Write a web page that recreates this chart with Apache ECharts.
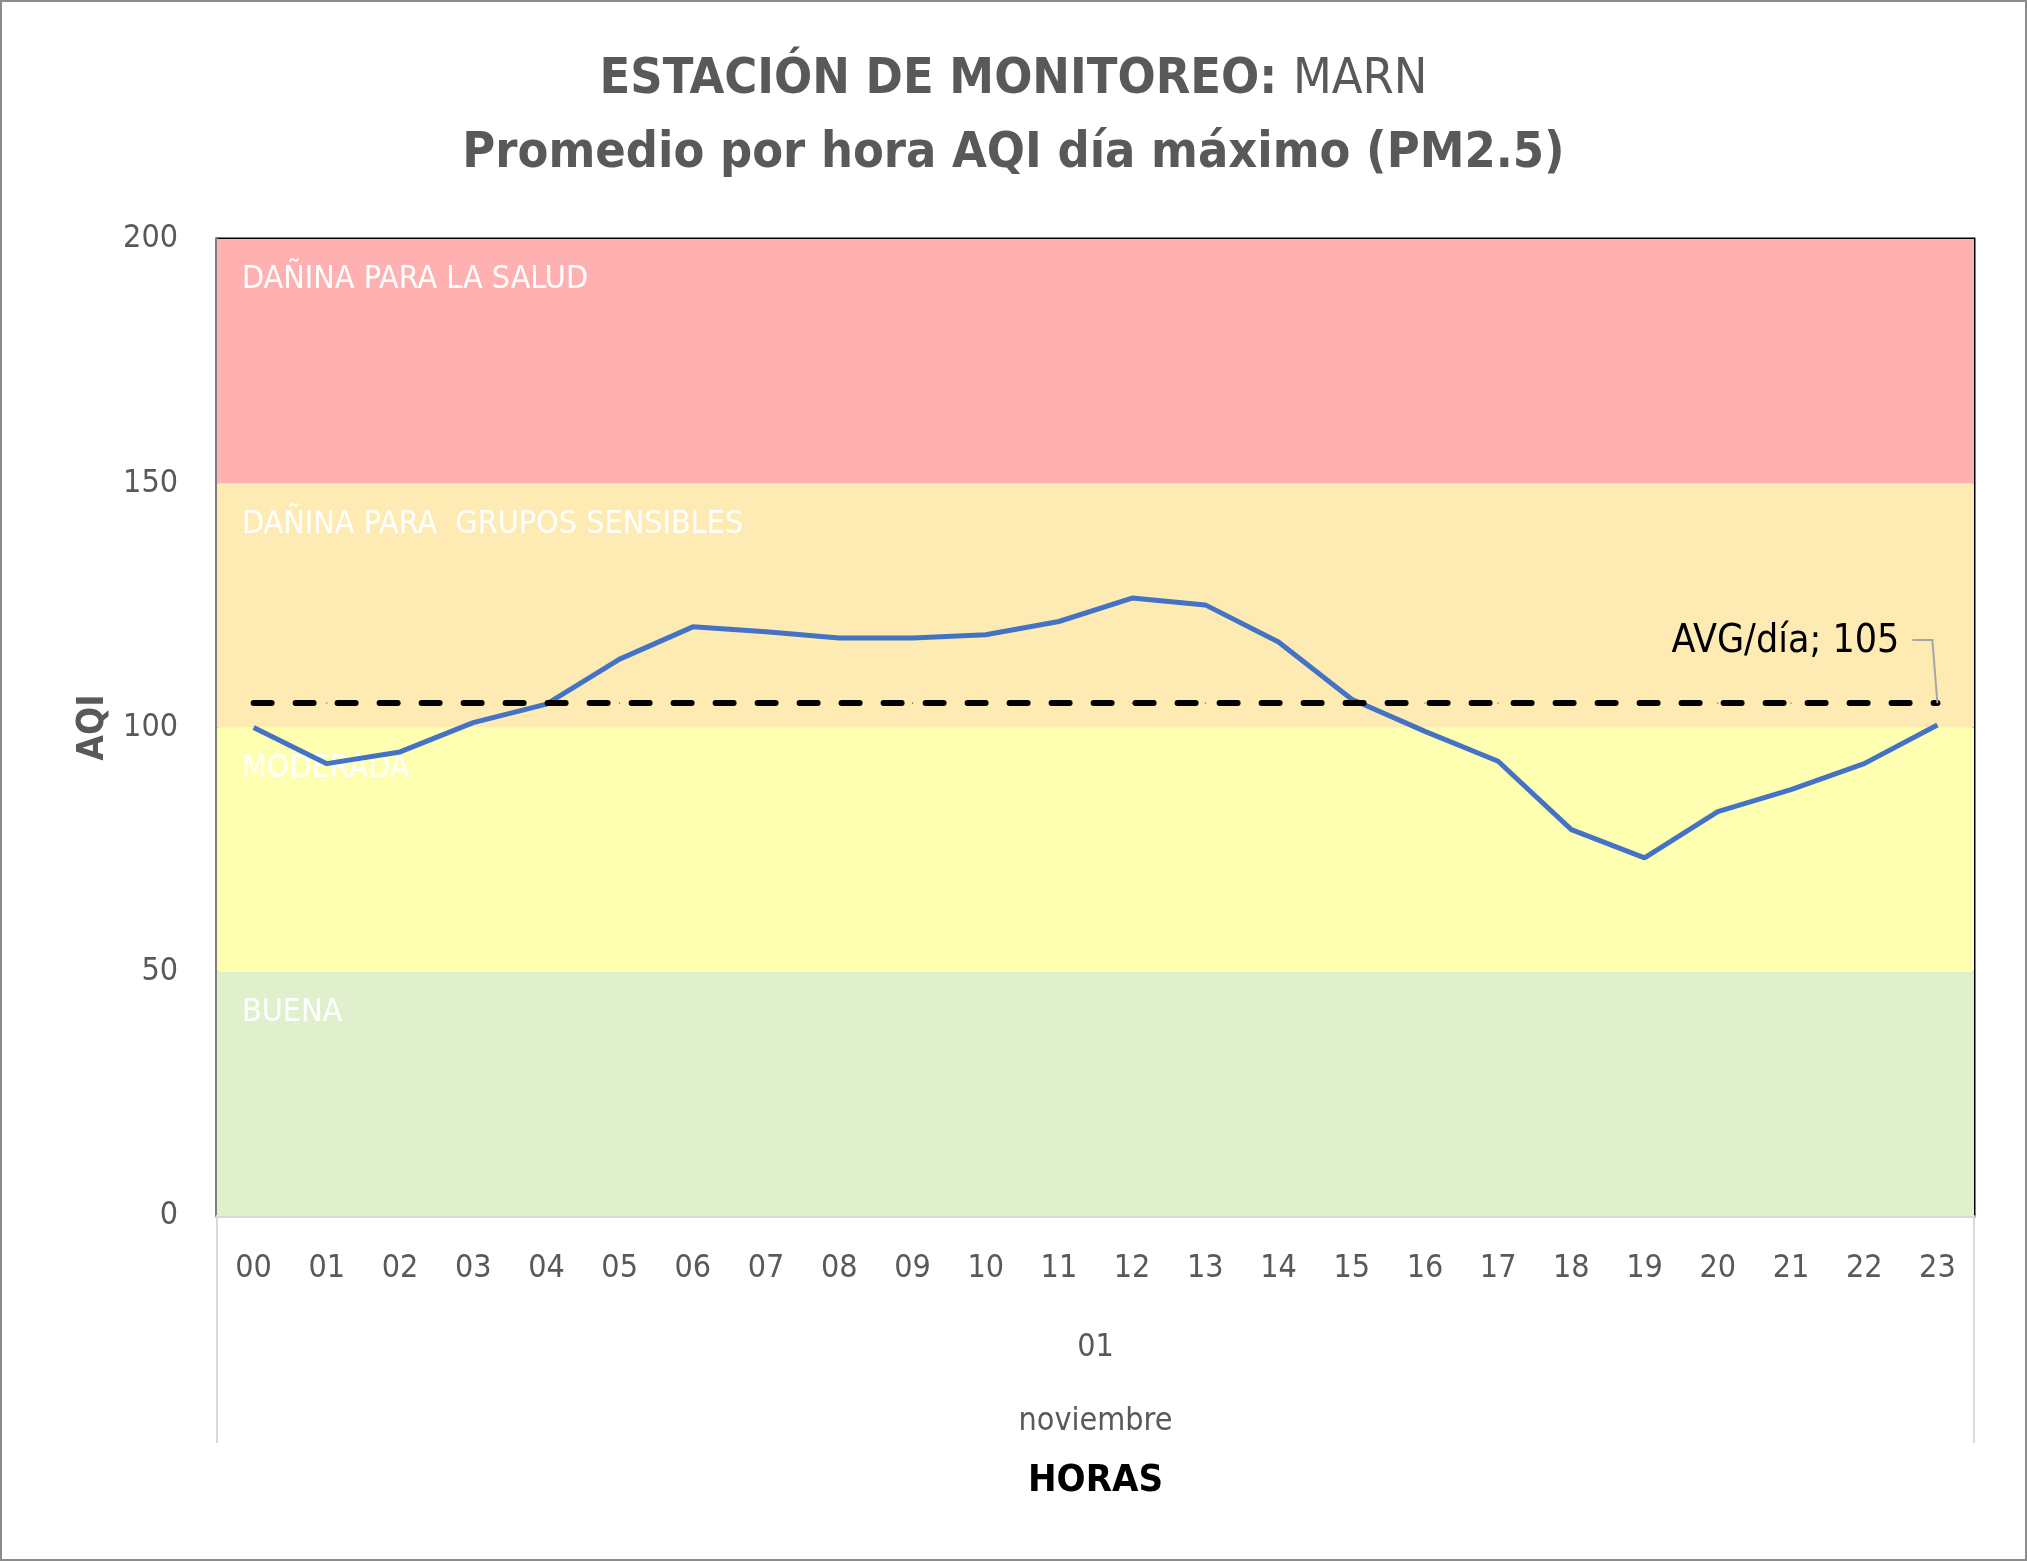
<!DOCTYPE html>
<html>
<head>
<meta charset="utf-8">
<script src="https://cdn.jsdelivr.net/npm/echarts@6/dist/echarts.min.js"></script>
<style>
  html, body { margin: 0; padding: 0; background: #fff; }
  #chart { width: 2027px; height: 1561px; box-sizing: border-box; border: 2px solid #8c8c8c; }
</style>
</head>
<body>
<div id="chart"></div>
<script>
const hours = ['00','01','02','03','04','05','06','07','08','09','10','11','12','13','14','15','16','17','18','19','20','21','22','23'];
const aqiValues = [100, 92.6, 95, 101, 104.8, 114, 120.6, 119.6, 118.3, 118.3, 119, 121.7, 126.5, 125.1, 117.5, 105.8, 99.2, 93.1, 79.1, 73.3, 82.8, 87.3, 92.6, 100.5];
const avgValue = 105;
const avgValues = [105,105,105,105,105,105,105,105,105,105,105,105,105,105,105,105,105,105,105,105,105,105,105,105];
const dayLabels = ['01'];
const monthLabels = ['noviembre'];
const bandNames = ['BUENA', 'MODERADA', 'DAÑINA PARA  GRUPOS SENSIBLES', 'DAÑINA PARA LA SALUD'];
const bandLimits = [0, 50, 100, 150, 200];
const bandColors = ['#E0F0CD', '#FFFFB1', '#FEEBB3', '#FFB1B1'];
const yMin = 0, yMax = 200, yInterval = 50;

const FONT = "'Liberation Sans Narrow', 'Arial Narrow', 'DejaVu Sans Condensed', sans-serif";

const chart = echarts.init(document.getElementById('chart'));

const bands = bandNames.map((name, i) => [
  { yAxis: bandLimits[i], name: name, itemStyle: { color: bandColors[i] } },
  { yAxis: bandLimits[i + 1] }
]);

chart.setOption({
  animation: false,
  backgroundColor: '#fff',
  textStyle: { fontFamily: FONT },
  title: {
    left: 'center',
    top: 36,
    text: '{b|ESTACIÓN DE MONITOREO: }{n|MARN}\n{b|Promedio por hora AQI día máximo (PM2.5)}',
    textStyle: {
      rich: {
        b: { fontFamily: FONT, fontSize: 50, fontWeight: 'bold', color: '#595959', lineHeight: 74 },
        n: { fontFamily: FONT, fontSize: 50, fontWeight: 'normal', color: '#595959', lineHeight: 74 }
      }
    }
  },
  grid: {
    left: 215, right: 51, top: 237, bottom: 343,
    show: true, borderColor: '#000', borderWidth: 3, backgroundColor: 'transparent'
  },
  xAxis: [
    {
      type: 'category', data: hours, boundaryGap: true, position: 'bottom',
      axisLine: { show: true, lineStyle: { color: '#D9D9D9', width: 3 } },
      axisTick: { show: false },
      axisLabel: { interval: 0, fontSize: 32, color: '#595959', margin: 37, fontFamily: FONT },
      splitLine: { show: false },
      name: 'HORAS', nameLocation: 'middle', nameGap: 246,
      nameTextStyle: { fontSize: 38, fontWeight: 'bold', color: '#000', fontFamily: FONT }
    },
    {
      type: 'category', data: dayLabels, boundaryGap: true, position: 'bottom', offset: 0,
      axisLine: { show: false },
      axisTick: { show: true, length: 227, lineStyle: { color: '#D9D9D9', width: 2 } },
      axisLabel: { fontSize: 32, color: '#595959', margin: 116, fontFamily: FONT },
      splitLine: { show: false }
    },
    {
      type: 'category', data: monthLabels, boundaryGap: true, position: 'bottom', offset: 0,
      axisLine: { show: false },
      axisTick: { show: false },
      axisLabel: { fontSize: 32, color: '#595959', margin: 190, fontFamily: FONT },
      splitLine: { show: false }
    }
  ],
  yAxis: {
    type: 'value', min: yMin, max: yMax, interval: yInterval,
    axisLine: { show: true, lineStyle: { color: '#7F7F7F', width: 2 } },
    axisTick: { show: false },
    splitLine: { show: false },
    axisLabel: { fontSize: 32, color: '#595959', margin: 39, fontFamily: FONT },
    name: 'AQI', nameLocation: 'middle', nameRotate: 90, nameGap: 105,
    nameTextStyle: { fontSize: 37, fontWeight: 'bold', color: '#595959', fontFamily: FONT }
  },
  series: [
    {
      name: 'AQI', type: 'line', data: aqiValues, xAxisIndex: 0,
      showSymbol: false, symbol: 'none', z: 3,
      lineStyle: { color: '#4472C4', width: 5 },
      itemStyle: { color: '#4472C4' },
      markArea: {
        silent: true,
        label: {
          show: true, position: 'insideTopLeft', color: '#fff', fontSize: 32,
          fontFamily: FONT, offset: [20, 20]
        },
        data: bands
      }
    },
    {
      name: 'AVG/día', type: 'line', xAxisIndex: 0, z: 4,
      data: avgValues.map((v, i) => i === avgValues.length - 1
        ? { value: v, label: { show: true } } : v),
      showSymbol: true, symbol: 'circle', symbolSize: 1,
      itemStyle: { color: '#000' },
      lineStyle: { color: '#000', width: 6, type: [18, 24], cap: 'round' },
      label: {
        show: false, formatter: '{a}; {c}', fontSize: 39, color: '#000', fontFamily: FONT
      },
      labelLayout: function (p) {
        const px = p.rect.x + p.rect.width / 2;
        const py = p.rect.y + p.rect.height / 2;
        return { x: px - 38, y: py - 61, align: 'right', verticalAlign: 'middle' };
      }
    }
  ]
});

// leader line for the average label, anchored at the last average point via the chart's own scales
const anchor = chart.convertToPixel({ xAxisIndex: 0, yAxisIndex: 0 }, [hours[hours.length - 1], avgValue]);
chart.setOption({
  graphic: [{
    type: 'polyline', z: 100, silent: true,
    shape: { points: [[anchor[0] - 25, anchor[1] - 63], [anchor[0] - 5, anchor[1] - 63], [anchor[0], anchor[1]]] },
    style: { stroke: '#A6A6A6', lineWidth: 2, fill: null }
  }]
});
</script>
</body>
</html>
